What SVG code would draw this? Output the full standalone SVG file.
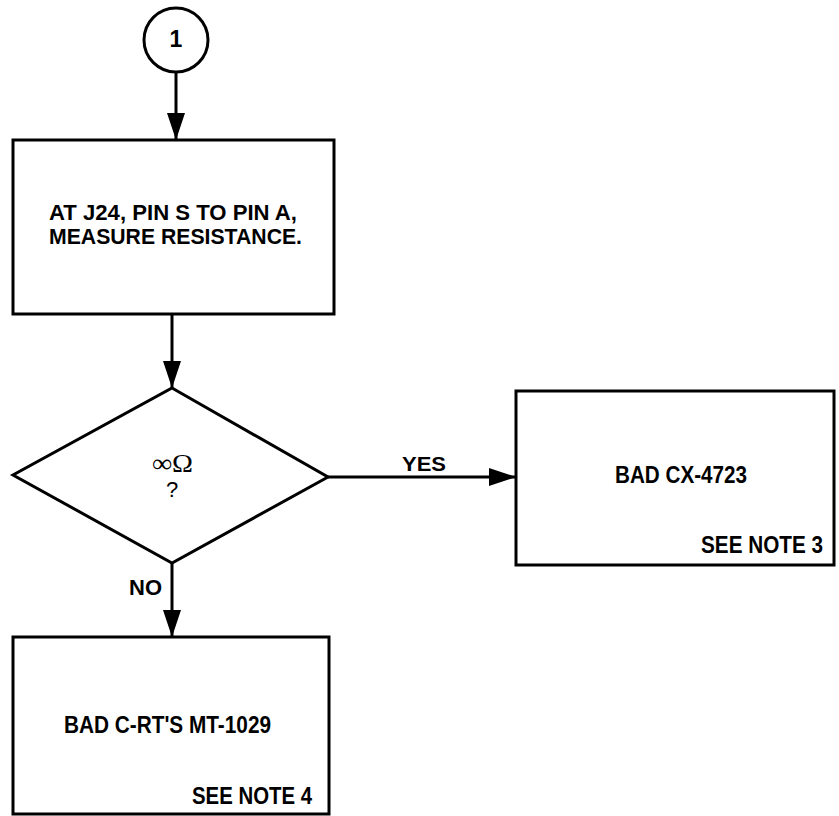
<svg xmlns="http://www.w3.org/2000/svg" width="839" height="816" viewBox="0 0 839 816">
<style>
.box{fill:#fff;stroke:#000;stroke-width:3}
.con{fill:none;stroke:#000;stroke-width:3}
.t{font-family:"Liberation Sans",Arial,sans-serif;font-weight:bold;font-size:23px;fill:#000}
.s{font-family:"Liberation Serif","Times New Roman",serif;font-size:26px;fill:#000}
</style>
<defs>
<marker id="ah" viewBox="0 0 27 18" refX="27" refY="9" markerWidth="27" markerHeight="18" markerUnits="userSpaceOnUse" orient="auto">
<path d="M0,0 L27,9 L0,18 Z" fill="#000"/>
</marker>
</defs>
<rect width="839" height="816" fill="#fff"/>
<g id="connectors">
<path class="con" d="M176 72 V140" marker-end="url(#ah)"/>
<path class="con" d="M172 314 V388" marker-end="url(#ah)"/>
<path class="con" d="M328 477 H516" marker-end="url(#ah)"/>
<path class="con" d="M172 563 V637" marker-end="url(#ah)"/>
<text class="t" x="402" y="471" textLength="44" lengthAdjust="spacingAndGlyphs" style="font-size:21px">YES</text>
<text class="t" x="129" y="595" textLength="33" lengthAdjust="spacingAndGlyphs" style="font-size:22px">NO</text>
</g>
<g id="start">
<circle class="box" cx="176" cy="40" r="32"/>
<text class="t" x="176" y="47" text-anchor="middle" style="font-size:23px">1</text>
</g>
<g id="measure">
<rect class="box" x="13" y="140" width="321" height="174"/>
<text class="t" x="49" y="220" textLength="248" lengthAdjust="spacingAndGlyphs" style="font-size:22px">AT J24, PIN S TO PIN A,</text>
<text class="t" x="49" y="244" textLength="253" lengthAdjust="spacingAndGlyphs" style="font-size:22px">MEASURE RESISTANCE.</text>
</g>
<g id="decision">
<path class="box" d="M172 388 L328 477 L172 563 L13 475 Z"/>
<text class="s" x="152" y="472" textLength="41" lengthAdjust="spacingAndGlyphs">∞Ω</text>
<text class="t" x="172" y="497" text-anchor="middle" style="font-size:22px;font-weight:normal">?</text>
</g>
<g id="bad-cx">
<rect class="box" x="516" y="391" width="318" height="174"/>
<text class="t" x="615" y="483" textLength="132" lengthAdjust="spacingAndGlyphs" style="font-size:24px">BAD CX-4723</text>
<text class="t" x="701" y="553" textLength="122" lengthAdjust="spacingAndGlyphs">SEE NOTE 3</text>
</g>
<g id="bad-crt">
<rect class="box" x="13" y="637" width="316" height="177"/>
<text class="t" x="64" y="733" textLength="207" lengthAdjust="spacingAndGlyphs" style="font-size:24px">BAD C-RT'S MT-1029</text>
<text class="t" x="192" y="804" textLength="120" lengthAdjust="spacingAndGlyphs">SEE NOTE 4</text>
</g>
</svg>
